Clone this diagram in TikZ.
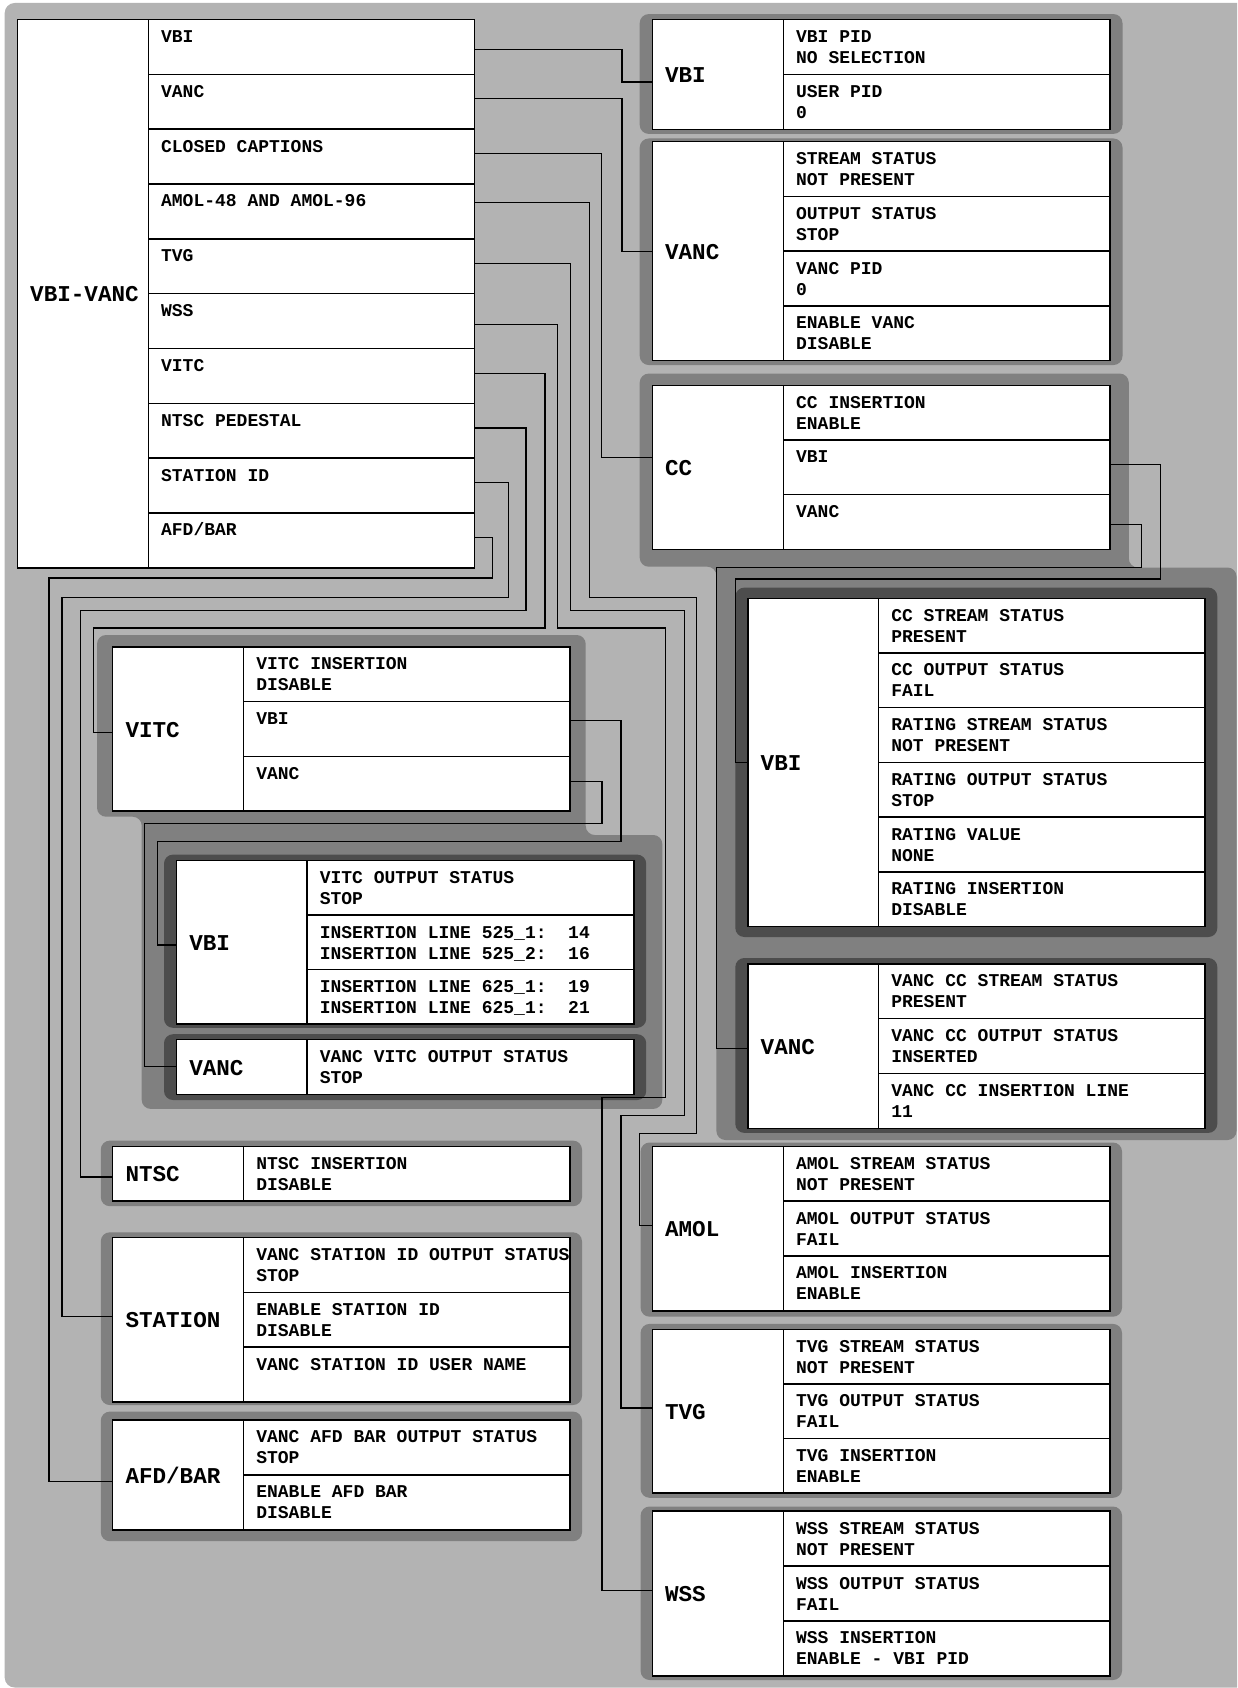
\documentclass[tikz,border=0pt]{standalone}
\usepackage{fontspec}
\newfontfamily\cfont{Liberation Mono}
\definecolor{bglight}{RGB}{179,179,179}
\definecolor{bgmid}{RGB}{128,128,128}
\definecolor{bgdark}{RGB}{77,77,77}
\tikzset{
  cellbox/.style={draw=black, line width=1.5pt, fill=white, inner sep=0pt, outer sep=0pt, anchor=north west},
  ctext/.style={anchor=base west, inner sep=0pt, font=\cfont\bfseries\fontsize{18}{21}\selectfont},
  ltext/.style={anchor=base west, inner sep=0pt, font=\cfont\bfseries\fontsize{22.6}{26}\selectfont},
  conn/.style={draw=black, line width=1.2pt},
  grp/.style={fill=bgmid, rounded corners=9pt},
  dgrp/.style={fill=bgdark, rounded corners=9pt}
}
\newcommand\cbox[5]{\node[cellbox, minimum width=#4pt-#2pt, minimum height=#5pt-#3pt] (#1) at (#2,#3) {};}
\newcommand\stack[6]{%
  \foreach \i in {1,...,#6}{%
    \pgfmathsetmacro\yt{#4+(\i-1)*(#5-#4)/#6}%
    \pgfmathsetmacro\yb{#4+\i*(#5-#4)/#6}%
    \cbox{#1\i}{#2}{\yt}{#3}{\yb}%
  }}
\newcommand\tA[2]{\node[ctext] (#1-a) at ([shift={(12.6,22.9)}]#1.north west) {#2};}
\newcommand\tB[3]{\tA{#1}{#2}\node[ctext] (#1-b) at ([shift={(12.6,43.9)}]#1.north west) {#3};}
\newcommand\lab[2]{\node[ltext] (#1-t) at ([shift={(12.6,8.2)}]#1.west) {#2};}
\begin{document}
\begin{tikzpicture}[x=1pt,y=-1pt]
\useasboundingbox (0,0) rectangle (1237,1688);
\clip (0,0) rectangle (1237,1688);
\fill[bglight, rounded corners=10pt] (4.7,3) rectangle (1250,1687.5);

% group backgrounds
\fill[grp] (639.7,14.1) rectangle (1122.5,133.9);
\fill[grp] (639.7,138.5) rectangle (1122.5,365);
\fill[grp] (639.7,373.6) -- (1128.8,373.6) -- (1128.8,567.5) -- (1236.5,567.5) -- (1236.5,1140) -- (716.4,1140) -- (716.4,566.7) -- (639.7,566.7) -- cycle;
\fill[dgrp] (735.3,587.6) rectangle (1217.3,937);
\fill[dgrp] (735.3,958) rectangle (1217.3,1132.9);
\fill[grp] (640.6,1142.5) rectangle (1122,1316.7);
\fill[grp] (640.6,1323.9) rectangle (1122,1497.8);
\fill[grp] (640.6,1506.5) rectangle (1122,1680);
\fill[grp] (97,635) -- (585.7,635) -- (585.7,835) -- (662.3,835) -- (662.3,1108.9) -- (141.7,1108.9) -- (141.7,816.7) -- (97,816.7) -- cycle;
\fill[dgrp] (164,854.6) rectangle (646.2,1027.8);
\fill[dgrp] (164,1034.2) rectangle (646.2,1100);
\fill[grp] (100.8,1140.6) rectangle (582,1206.2);
\fill[grp] (100.8,1232.3) rectangle (582,1405);
\fill[grp] (100.8,1411.6) rectangle (582,1541.2);

% main box
\cbox{mL}{17.4}{19.6}{148.3}{567.8}
\stack{m}{148.3}{474.5}{19.6}{567.8}{10}
\lab{mL}{VBI-VANC}
\tA{m1}{VBI}
\tA{m2}{VANC}
\tA{m3}{CLOSED CAPTIONS}
\tA{m4}{AMOL-48 AND AMOL-96}
\tA{m5}{TVG}
\tA{m6}{WSS}
\tA{m7}{VITC}
\tA{m8}{NTSC PEDESTAL}
\tA{m9}{STATION ID}
\tA{m10}{AFD/BAR}

% right VBI
\cbox{rvL}{652.3}{19.6}{783.3}{129.5}
\stack{rv}{783.3}{1109.9}{19.6}{129.5}{2}
\lab{rvL}{VBI}
\tB{rv1}{VBI PID}{NO SELECTION}
\tB{rv2}{USER PID}{0}

% right VANC
\cbox{raL}{652.3}{141.7}{783.3}{360.7}
\stack{ra}{783.3}{1109.9}{141.7}{360.7}{4}
\lab{raL}{VANC}
\tB{ra1}{STREAM STATUS}{NOT PRESENT}
\tB{ra2}{OUTPUT STATUS}{STOP}
\tB{ra3}{VANC PID}{0}
\tB{ra4}{ENABLE VANC}{DISABLE}

% CC
\cbox{rcL}{652.3}{385.4}{783.3}{549.3}
\stack{rc}{783.3}{1109.9}{385.4}{549.3}{3}
\lab{rcL}{CC}
\tB{rc1}{CC INSERTION}{ENABLE}
\tA{rc2}{VBI}
\tA{rc3}{VANC}

% CC VBI
\cbox{cvL}{747.9}{598.3}{878.5}{926.6}
\stack{cv}{878.5}{1205.1}{598.3}{926.6}{6}
\lab{cvL}{VBI}
\tB{cv1}{CC STREAM STATUS}{PRESENT}
\tB{cv2}{CC OUTPUT STATUS}{FAIL}
\tB{cv3}{RATING STREAM STATUS}{NOT PRESENT}
\tB{cv4}{RATING OUTPUT STATUS}{STOP}
\tB{cv5}{RATING VALUE}{NONE}
\tB{cv6}{RATING INSERTION}{DISABLE}

% CC VANC
\cbox{caL}{747.9}{963.8}{878.5}{1128.3}
\stack{ca}{878.5}{1205.1}{963.8}{1128.3}{3}
\lab{caL}{VANC}
\tB{ca1}{VANC CC STREAM STATUS}{PRESENT}
\tB{ca2}{VANC CC OUTPUT STATUS}{INSERTED}
\tB{ca3}{VANC CC INSERTION LINE}{11}

% AMOL
\cbox{amL}{652.3}{1146.4}{783.3}{1310.9}
\stack{am}{783.3}{1109.9}{1146.4}{1310.9}{3}
\lab{amL}{AMOL}
\tB{am1}{AMOL STREAM STATUS}{NOT PRESENT}
\tB{am2}{AMOL OUTPUT STATUS}{FAIL}
\tB{am3}{AMOL INSERTION}{ENABLE}

% TVG
\cbox{tvL}{652.3}{1329.4}{783.3}{1493.1}
\stack{tv}{783.3}{1109.9}{1329.4}{1493.1}{3}
\lab{tvL}{TVG}
\tB{tv1}{TVG STREAM STATUS}{NOT PRESENT}
\tB{tv2}{TVG OUTPUT STATUS}{FAIL}
\tB{tv3}{TVG INSERTION}{ENABLE}

% WSS
\cbox{wsL}{652.3}{1511.2}{783.3}{1676}
\stack{ws}{783.3}{1109.9}{1511.2}{1676}{3}
\lab{wsL}{WSS}
\tB{ws1}{WSS STREAM STATUS}{NOT PRESENT}
\tB{ws2}{WSS OUTPUT STATUS}{FAIL}
\tB{ws3}{WSS INSERTION}{ENABLE - VBI PID}

% VITC
\cbox{viL}{112.7}{646.8}{243.5}{811}
\stack{vi}{243.5}{570.2}{646.8}{811}{3}
\lab{viL}{VITC}
\tB{vi1}{VITC INSERTION}{DISABLE}
\tA{vi2}{VBI}
\tA{vi3}{VANC}

% VITC VBI
\cbox{vbL}{176.5}{860.7}{307}{1024.2}
\stack{vb}{307}{634}{860.7}{1024.2}{3}
\lab{vbL}{VBI}
\tB{vb1}{VITC OUTPUT STATUS}{STOP}
\tB{vb2}{INSERTION LINE 525\_1:\ \ 14}{INSERTION LINE 525\_2:\ \ 16}
\tB{vb3}{INSERTION LINE 625\_1:\ \ 19}{INSERTION LINE 625\_1:\ \ 21}

% VITC VANC
\cbox{vaL}{176.5}{1039.6}{307}{1094.6}
\stack{va}{307}{634}{1039.6}{1094.6}{1}
\lab{vaL}{VANC}
\tB{va1}{VANC VITC OUTPUT STATUS}{STOP}

% NTSC
\cbox{ntL}{112.7}{1146.4}{243.5}{1200.8}
\stack{nt}{243.5}{570.2}{1146.4}{1200.8}{1}
\lab{ntL}{NTSC}
\tB{nt1}{NTSC INSERTION}{DISABLE}

% STATION
\cbox{stL}{112.7}{1237.7}{243.5}{1401.8}
\stack{st}{243.5}{570.2}{1237.7}{1401.8}{3}
\lab{stL}{STATION}
\tB{st1}{VANC STATION ID OUTPUT STATUS}{STOP}
\tB{st2}{ENABLE STATION ID}{DISABLE}
\tA{st3}{VANC STATION ID USER NAME}

% AFD/BAR
\cbox{afL}{112.7}{1419.9}{243.5}{1530}
\stack{af}{243.5}{570.2}{1419.9}{1530}{2}
\lab{afL}{AFD/BAR}
\tB{af1}{VANC AFD BAR OUTPUT STATUS}{STOP}
\tB{af2}{ENABLE AFD BAR}{DISABLE}

% connectors
\draw[conn] (m1.east |- 0,49.2) -| (622,82.1) -- (rvL.west |- 0,82.1);
\draw[conn] (m2.east |- 0,98.8) -| (622,251.5) -- (raL.west |- 0,251.5);
\draw[conn] (m3.east |- 0,153.9) -| (601.8,457.6) -- (rcL.west |- 0,457.6);
\draw[conn] (m4.east |- 0,202.3) -| (589.1,597.5) -| (696.7,1133.8) -| (639.8,1225.8) -- (amL.west |- 0,1225.8);
\draw[conn] (m5.east |- 0,263.7) -| (570.2,610.4) -| (684.1,1115.5) -| (621,1408) -- (tvL.west |- 0,1408);
\draw[conn] (m6.east |- 0,324.8) -| (557.5,627.9) -| (665.5,1097.6) -| (602,1590.5) -- (wsL.west |- 0,1590.5);
\draw[conn] (m7.east |- 0,373.6) -| (544.9,627.9) -| (93.2,732.5) -- (viL.west |- 0,732.5);
\draw[conn] (m8.east |- 0,428) -| (525.9,610.4) -| (80.7,1176.9) -- (ntL.west |- 0,1176.9);
\draw[conn] (m9.east |- 0,482.7) -| (508.1,597.5) -| (62,1316.7) -- (stL.west |- 0,1316.7);
\draw[conn] (m10.east |- 0,537.5) -| (492.3,577.9) -| (49,1481.1) -- (afL.west |- 0,1481.1);
\draw[conn] (rc2.east |- 0,464.2) -| (1160.3,579) -| (735.3,762.8) -- (cvL.west |- 0,762.8);
\draw[conn] (rc3.east |- 0,524.5) -| (1141.4,567.5) -| (716.4,1048.7) -- (caL.west |- 0,1048.7);
\draw[conn] (vi2.east |- 0,720.7) -| (621,841.4) -| (157.4,945) -- (vbL.west |- 0,945);
\draw[conn] (vi3.east |- 0,781.4) -| (602,823.5) -| (144.4,1066.4) -- (vaL.west |- 0,1066.4);
\end{tikzpicture}
\end{document}
